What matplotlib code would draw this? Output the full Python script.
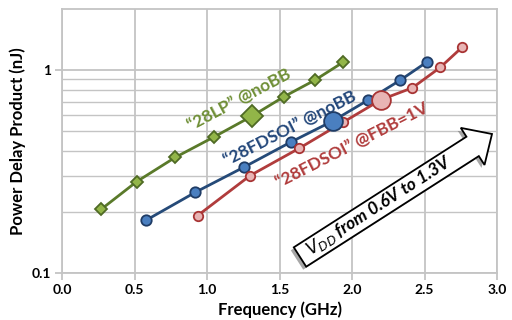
import matplotlib
matplotlib.use("Agg")
import matplotlib.pyplot as plt
import numpy as np
from matplotlib.patches import Polygon
from matplotlib.ticker import FixedLocator, NullFormatter

plt.rcParams['font.family'] = ['Lato', 'DejaVu Sans']

# Data (VDD from 0.6V to 1.3V, big marker at 1.0V)
lp_freq = [0.27, 0.515, 0.78, 1.05, 1.31, 1.53, 1.745, 1.94]
lp_pdp = [0.206, 0.282, 0.371, 0.469, 0.593, 0.739, 0.893, 1.095]
fd_freq = [0.58, 0.92, 1.257, 1.576, 1.869, 2.11, 2.334, 2.519]
fd_pdp = [0.182, 0.250, 0.333, 0.441, 0.562, 0.711, 0.893, 1.099]
fbb_freq = [0.936, 1.297, 1.634, 1.936, 2.203, 2.417, 2.608, 2.762]
fbb_pdp = [0.192, 0.302, 0.411, 0.552, 0.716, 0.818, 1.030, 1.301]
big_idx = 4

x_ticks = [0.0, 0.5, 1.0, 1.5, 2.0, 2.5, 3.0]
x_ticklabels = ["0.0", "0.5", "1.0", "1.5", "2.0", "2.5", "3.0"]
y_ticks = [0.1, 1]
y_ticklabels = ["0.1", "1"]

fig = plt.figure(figsize=(5.12, 3.2), dpi=100)
ax = fig.add_axes([62/512, 1-273/320, (497-62)/512, (273-9)/320])
ax.set_yscale('log')
ax.set_xlim(0, 3.0)
ax.set_ylim(0.1, 2.0)

grid_c = '#c4c4c4'
ax.set_xticks(x_ticks)
ax.set_xticklabels(x_ticklabels)
ax.yaxis.set_major_locator(FixedLocator(y_ticks))
ax.set_yticklabels(y_ticklabels)
ax.yaxis.set_minor_locator(FixedLocator([0.2, 0.3, 0.4, 0.5, 0.6, 0.7, 0.8, 0.9]))
ax.yaxis.set_minor_formatter(NullFormatter())
ax.grid(True, which='major', color=grid_c, lw=1.3)
ax.grid(True, which='minor', axis='y', color=grid_c, lw=1.0)
ax.set_axisbelow(True)
for s in ax.spines.values():
    s.set_color(grid_c)
    s.set_linewidth(1.3)
ax.tick_params(axis='both', which='major', length=5, width=1.3, color=grid_c,
               labelsize=10, pad=3)
ax.tick_params(axis='y', which='minor', length=0)
for lab in ax.get_xticklabels() + ax.get_yticklabels():
    lab.set_fontweight('bold')
ax.set_xlabel("Frequency (GHz)", fontsize=12, fontweight='bold', labelpad=4)
ax.set_ylabel("Power Delay Product (nJ)", fontsize=12, fontweight='bold', labelpad=4)

def series(xs, ys, line_c, fill_c, edge_c, marker, ms, big_ms):
    ax.plot(xs, ys, color=line_c, lw=2.0, marker=marker, ms=ms,
            mfc=fill_c, mec=edge_c, mew=1.3, zorder=3)
    ax.plot([xs[big_idx]], [ys[big_idx]], linestyle='none', marker=marker,
            ms=big_ms, mfc=fill_c, mec=edge_c, mew=1.3, zorder=4)

series(lp_freq, lp_pdp, '#5a7a2a', '#92b548', '#4f6a25', 'D', 6.5, 11.5)
series(fd_freq, fd_pdp, '#254a78', '#4a7fc0', '#1f3c66', 'o', 7.5, 13.5)
series(fbb_freq, fbb_pdp, '#b03c3c', '#e8b4b4', '#a83434', 'o', 6.8, 13.5)

# Series labels
ax.text(1.22, 0.71, "\u201c28LP\u201d @noBB", color='#6f8f36', fontsize=12.5,
        fontweight='bold', rotation=28, ha='center', va='center', rotation_mode='anchor')
ax.text(1.575, 0.515, "\u201c28FDSOI\u201d @noBB", color='#23477a', fontsize=12.5,
        fontweight='bold', rotation=27, ha='center', va='center', rotation_mode='anchor')
ax.text(2.0, 0.425, "\u201c28FDSOI\u201d @FBB=1V", color='#b03c3c', fontsize=12.5,
        fontweight='bold', rotation=27, ha='center', va='center', rotation_mode='anchor')

# Overlay for arrow in pixel coords
ov = fig.add_axes([0, 0, 1, 1], facecolor='none')
ov.set_xlim(0, 512)
ov.set_ylim(320, 0)
ov.axis('off')

T = np.array([300.0, 257.0])
P = np.array([492.0, 134.0])
d = P - T
L = np.hypot(*d)
u = d / L
n = np.array([u[1], -u[0]])  # perpendicular
sw = 11.5
hw = 22.0
hl = 23.0
B = P - u * hl
pts = [T + n*sw, B + n*sw, B + n*hw, P, B - n*hw, B - n*sw, T - n*sw]
shadow = [p + np.array([-3.0, 3.0]) for p in pts]
ov.add_patch(Polygon(shadow, closed=True, facecolor='#606060', edgecolor='none', alpha=0.55, zorder=5))
ov.add_patch(Polygon(pts, closed=True, facecolor='white', edgecolor='black', lw=1.3, zorder=6))
ang = np.degrees(np.arctan2(-d[1], d[0]))
c = T + u * (L - hl) * 0.46
ov.text(c[0], c[1], r"$V_{DD}$ from 0.6V to 1.3V", fontsize=12.5, fontstyle='italic',
        fontweight='bold', rotation=ang, ha='center', va='center', rotation_mode='anchor',
        zorder=7, color='black')

fig.savefig("out.png", dpi=100)
